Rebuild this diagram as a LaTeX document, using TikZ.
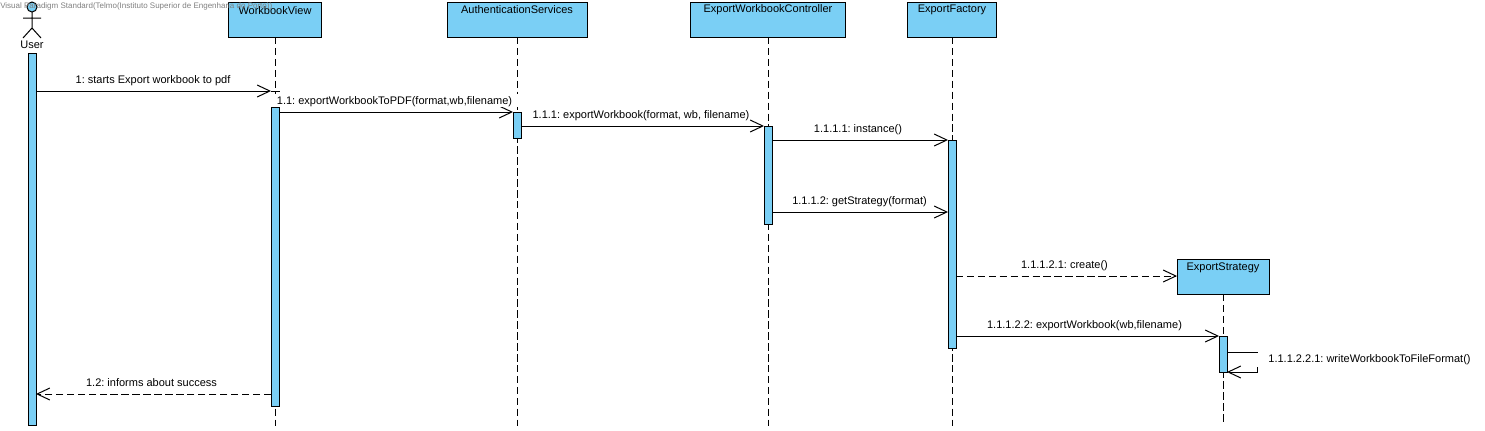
\documentclass[tikz,border=0pt]{standalone}
\usepackage{fontspec}
\setmainfont{Liberation Sans}
\usetikzlibrary{arrows.meta}
\definecolor{lifeblue}{HTML}{7ACFF5}
\tikzset{
  lifebox/.style={draw,fill=lifeblue,line width=.75pt,minimum width=#1*.75pt,minimum height=35*.75pt,inner sep=0pt,anchor=north,outer sep=0pt},
  lifetext/.style={font=\fontsize{8.25}{10}\selectfont,inner sep=0pt},
  actbox/.style={draw,fill=lifeblue,line width=.75pt,minimum width=8*.75pt,minimum height=#1*.75pt,inner sep=0pt,anchor=north,outer sep=0pt},
  lifeline/.style={line width=.75pt,dash pattern=on 5.6pt off 2.6pt},
  msg/.style={line width=.75pt,-{Straight Barb[length=9.5pt,width=9pt,line width=.75pt]}},
  retmsg/.style={msg,dash pattern=on 5.6pt off 2.6pt},
  msglabel/.style={font=\fontsize{8.25}{10}\selectfont,inner sep=0pt},
}
\begin{document}
\frenchspacing
\begin{tikzpicture}[x=.75pt,y=-.75pt]
\useasboundingbox (0,0) rectangle (1485,430);

\foreach \nm/\x/\y in {Workbook/275/2,Auth/517/2,Controller/768/2,Factory/952/2,Strategy/1223/259}
  \coordinate (top\nm) at (\x,\y);

\draw[lifeline] (275,37) -- (275,426);
\draw[lifeline] (517,37) -- (517,426);
\draw[lifeline] (768,37) -- (768,426);
\draw[lifeline] (952,37) -- (952,426);
\draw[lifeline] (1223,294) -- (1223,424);

\node[lifebox=93] (boxWorkbook) at (topWorkbook) {};
\node[lifebox=140] (boxAuth) at (topAuth) {};
\node[lifebox=155] (boxController) at (topController) {};
\node[lifebox=89] (boxFactory) at (topFactory) {};
\node[lifebox=92] (boxStrategy) at (topStrategy) {};
\node[lifetext] (txtWorkbook) at (275,10.5) {WorkbookView};
\node[lifetext] (txtAuth) at (517,10) {AuthenticationServices};
\node[lifetext] (txtController) at (768,10) {ExportWorkbookController};
\node[lifetext] (txtFactory) at (952,10) {ExportFactory};
\node[lifetext] (txtStrategy) at (1223,267.5) {ExportStrategy};

% actor
\draw[fill=lifeblue,line width=.75pt] (32,7) circle (5);
\draw[line width=.75pt] (32,12) -- (32,28) (23,18) -- (41,18) (23,38) -- (32,28) -- (41,38);
\node[lifetext] (txtUser) at (32,45) {User};

\node[actbox=372] (actUser) at (32,53) {};
\node[actbox=299] (actWorkbook) at (275,107) {};
\node[actbox=26] (actAuth) at (517,112) {};
\node[actbox=98] (actController) at (768,126) {};
\node[actbox=208] (actFactory) at (952,140) {};
\node[actbox=36] (actStrategy) at (1223,336) {};

\coordinate (m1) at (0,91);
\coordinate (m11) at (0,112);
\coordinate (m111) at (0,126);
\coordinate (m1111) at (0,140);
\coordinate (m1112) at (0,212);
\coordinate (m11121) at (0,276);
\coordinate (m11122) at (0,336);
\coordinate (m12) at (0,394);
\coordinate (s1) at (1257,352);
\coordinate (s2) at (1257,372);

\draw[msg] (actUser.east |- m1) -- (actWorkbook.west |- m1);
\draw[line width=.75pt] (actWorkbook.west |- m1) -- ([xshift=1pt]actWorkbook.east |- m1);
\draw[msg] (actWorkbook.east |- m11) -- (actAuth.west |- m11);
\draw[msg] (actAuth.east |- m111) -- (actController.west |- m111);
\draw[msg] (actController.east |- m1111) -- (actFactory.west |- m1111);
\draw[msg] (actController.east |- m1112) -- (actFactory.west |- m1112);
\draw[retmsg] (actFactory.east |- m11121) -- (boxStrategy.west |- m11121);
\draw[msg] (actFactory.east |- m11122) -- (actStrategy.west |- m11122);
\draw[msg] (actStrategy.east |- s1) -- (s1) -- (s2) -- (actStrategy.east |- s2);
\draw[retmsg] (actWorkbook.west |- m12) -- (actUser.east |- m12);

\node[msglabel] (lab1) at (153,81) {1: starts Export workbook to pdf};
\node[msglabel,fill=white,inner xsep=7.5pt,text height=7.5pt,text depth=1.6pt,minimum height=13*.75pt] (lab11) at (394.5,100.5) {1.1: exportWorkbookToPDF(format,wb,filename)};
\node[msglabel] (lab111) at (641,116) {1.1.1: exportWorkbook(format, wb, filename)};
\node[msglabel] (lab1111) at (858,130) {1.1.1.1: instance()};
\node[msglabel] (lab1112) at (859.5,202) {1.1.1.2: getStrategy(format)};
\node[msglabel] (lab11121) at (1064.5,266) {1.1.1.2.1: create()};
\node[msglabel] (lab11122) at (1084.5,326) {1.1.1.2.2: exportWorkbook(wb,filename)};
\node[msglabel,fill=white,inner xsep=9pt,minimum height=14*.75pt] (lab111221) at (1369.5,360) {1.1.1.2.2.1: writeWorkbookToFileFormat()};
\node[msglabel] (lab12) at (151.5,383) {1.2: informs about success};

\node[font=\fontsize{6}{7}\selectfont,text=black!50,inner sep=0pt,anchor=west] (watermark) at (0,6.5) {Visual Paradigm Standard(Telmo(Instituto Superior de Engenharia do Porto))};
\end{tikzpicture}
\end{document}
